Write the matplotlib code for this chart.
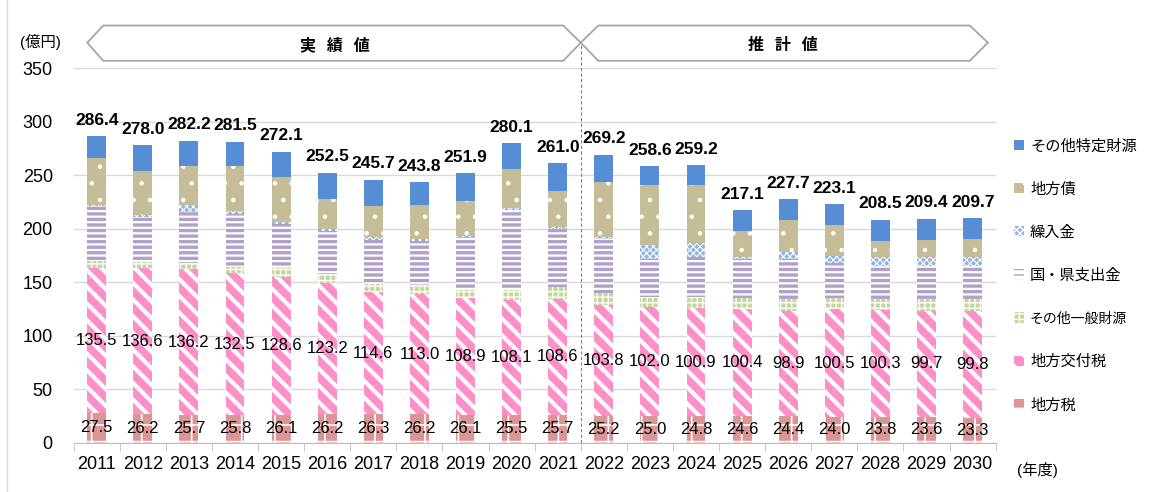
import matplotlib
matplotlib.use("Agg")
import matplotlib.pyplot as plt
from matplotlib.patches import Polygon
from matplotlib.lines import Line2D

plt.rcParams['font.family'] = ['Liberation Sans', 'Noto Sans CJK JP']

years = [str(y) for y in range(2011, 2031)]

# 億円 (bottom to top of each bar)
chihouzei = [27.5, 26.2, 25.7, 25.8, 26.1, 26.2, 26.3, 26.2, 26.1, 25.5,
             25.7, 25.2, 25.0, 24.8, 24.6, 24.4, 24.0, 23.8, 23.6, 23.3]
koufuzei = [135.5, 136.6, 136.2, 132.5, 128.6, 123.2, 114.6, 113.0, 108.9, 108.1,
            108.6, 103.8, 102.0, 100.9, 100.4, 98.9, 100.5, 100.3, 99.7, 99.8]
sonota_ippan = [6.5, 6.0, 6.3, 6.2, 8.3, 7.9, 7.4, 8.0, 8.0, 9.0,
                11.5, 10.5, 9.5, 10.0, 10.0, 10.5, 10.4, 10.1, 10.9, 11.1]
kuni_ken = [52.0, 42.5, 47.7, 48.9, 41.4, 40.5, 41.1, 41.0, 49.0, 75.0,
            54.2, 50.9, 35.2, 37.4, 36.4, 37.6, 32.7, 31.2, 30.9, 30.9]
kuriire = [0.5, 1.5, 6.3, 3.5, 1.6, 1.6, 2.5, 2.2, 1.2, 1.6,
           1.3, 2.1, 13.1, 13.1, 2.4, 7.1, 7.2, 8.4, 8.1, 8.1]
chihousai = [44.0, 41.5, 36.8, 42.1, 42.1, 28.4, 29.3, 31.8, 33.0, 36.7,
             34.0, 50.9, 56.1, 54.6, 24.0, 29.6, 28.7, 15.0, 16.2, 16.9]
sonota_tokutei = [20.4, 23.7, 23.2, 22.5, 24.0, 24.7, 24.5, 21.6, 25.7, 24.2,
                  25.7, 25.8, 17.7, 18.4, 19.3, 19.6, 19.6, 19.7, 20.0, 19.6]
totals = [286.4, 278.0, 282.2, 281.5, 272.1, 252.5, 245.7, 243.8, 251.9, 280.1,
          261.0, 269.2, 258.6, 259.2, 217.1, 227.7, 223.1, 208.5, 209.4, 209.7]

# label, values, face, hatch, hatch colour, hatch linewidth
series = [
    ("地方税", chihouzei, "#D99694", "+", "white", 1.2),
    ("地方交付税", koufuzei, "#FF8FC8", "\\\\", "white", 3.0),
    ("その他一般財源", sonota_ippan, "#C3D69B", "+++", "white", 1.0),
    ("国・県支出金", kuni_ken, "white", "---", "#B1A0C7", 2.4),
    ("繰入金", kuriire, "#8EB4E3", "xxxxx", "white", 0.8),
    ("地方債", chihousai, "#C4BD97", ".", "white", 0.8),
    ("その他特定財源", sonota_tokutei, "#558ED5", None, "#558ED5", 1.0),
]

W, H = 1164, 492
fig = plt.figure(figsize=(W / 100, H / 100), dpi=100)
ax = fig.add_axes([73.6 / W, 1 - 442.5 / H, 922.1 / W, 374.2 / H])

x = list(range(len(years)))
bottom = [0.0] * len(years)
handles = []
for label, vals, face, hatch, hc, hlw in series:
    with plt.rc_context({"hatch.linewidth": hlw}):
        bars = ax.bar(x, vals, 0.41, bottom=bottom, color=face, edgecolor=hc,
                      linewidth=0, hatch=hatch, label=label, zorder=2)
    for b in bars:
        try:
            b.set_hatch_linewidth(hlw)
        except AttributeError:
            pass
    handles.append(bars)
    if label in ("地方税", "地方交付税"):
        for i, v in enumerate(vals):
            ax.text(i, bottom[i] + v / 2, f"{v:.1f}", ha="center", va="center",
                    fontsize=12, zorder=5)
    bottom = [b0 + v for b0, v in zip(bottom, vals)]

for i, t in enumerate(totals):
    ax.annotate(f"{t:.1f}", (i, t), xytext=(0, 6), textcoords="offset points",
                ha="center", va="bottom", fontsize=12.5, fontweight="bold")

ax.set_xlim(-0.5, len(years) - 0.5)
ax.set_ylim(0, 350)
ax.set_yticks(range(0, 351, 50))
ax.yaxis.grid(True, color="#D9D9D9", lw=1)
ax.set_axisbelow(True)
for s in ("left", "right", "top"):
    ax.spines[s].set_visible(False)
ax.spines["bottom"].set_color("#BFBFBF")
ax.set_xticks(x)
ax.set_xticklabels(years)
ax.set_xticks([i - 0.5 for i in range(len(years) + 1)], minor=True)
ax.tick_params(axis="x", which="major", length=0, pad=10, labelsize=13)
ax.tick_params(axis="x", which="minor", length=6, color="#BFBFBF")
ax.tick_params(axis="y", length=0, pad=15, labelsize=13)

# 実績値 / 推計値 divider and header arrows
ax.plot([10.5, 10.5], [0, 374], ls=(0, (3, 2)), color="#808080", lw=0.8,
        clip_on=False, zorder=1)
top, mid, bot = 390, 374, 357
left_box = [(-0.204, mid), (0.143, top), (10.12, top), (10.5, mid), (10.12, bot), (0.143, bot)]
right_box = [(10.5, mid), (10.88, top), (18.94, top), (19.33, mid), (18.94, bot), (10.88, bot)]
for pts in (left_box, right_box):
    ax.add_patch(Polygon(pts, closed=True, facecolor="white", edgecolor="#A6A6A6",
                         lw=1.3, clip_on=False, zorder=3))
ax.text(5.17, 372, "実   績   値", ha="center", va="center", fontsize=11.5,
        fontweight="bold", family="Noto Sans CJK JP")
ax.text(14.89, 372, "推   計   値", ha="center", va="center", fontsize=11.5,
        fontweight="bold", family="Noto Sans CJK JP")

fig.text(40 / W, 1 - 42 / H, "(億円)", ha="center", va="center", fontsize=11)
fig.text(1037 / W, 1 - 470 / H, "(年度)", ha="center", va="center", fontsize=11)

leg = fig.legend(handles[::-1], [s[0] for s in series][::-1], loc="upper left",
                 bbox_to_anchor=(1014 / W, 1 - 139 / H), frameon=False, fontsize=11,
                 handlelength=0.65, handleheight=0.65, handletextpad=0.4,
                 labelspacing=1.9, borderpad=0, borderaxespad=0)
leg.get_texts()[4].set_fontsize(10)

fig.add_artist(Line2D([7 / W, 7 / W], [0, 1], color="#D9D9D9", lw=1))

fig.savefig("out.png", dpi=100)
